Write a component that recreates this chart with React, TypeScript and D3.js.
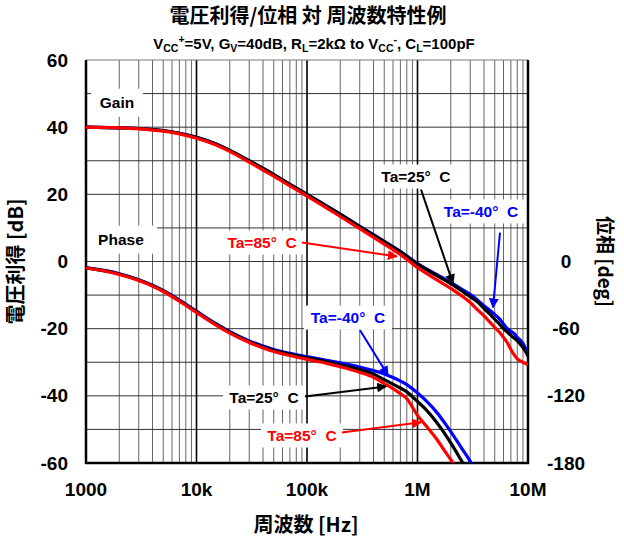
import React from 'react';
import * as d3 from 'd3';

const W = 624;
const H = 541;
const left = 86, right = 528, top = 60, bottom = 463;
const FONT = "'Liberation Sans', Arial, 'Noto Sans CJK JP', sans-serif";
const CJK = "'Noto Sans CJK JP', 'Liberation Sans', sans-serif";

// ---- Data ----
const gainFreq = [1000, 2000, 3000, 5000, 7000, 10000, 15000, 20000, 30000, 50000, 70000, 100000, 150000, 200000, 300000, 500000, 700000, 1000000, 1500000, 2000000, 2500000, 3000000, 3500000, 4000000, 4500000, 5000000, 5500000, 6000000, 6500000, 7000000, 7500000, 8000000, 8500000, 9000000, 9500000, 10000000];
const gainM40 = [40.0, 39.8, 39.6, 39.0, 38.2, 37.0, 35.0, 33.1, 30.0, 25.9, 23.0, 20.0, 16.6, 14.1, 10.5, 6.0, 3.0, -0.6, -3.9, -6.2, -8.2, -9.8, -11.5, -13.2, -14.5, -15.8, -17.0, -18.6, -20.0, -20.8, -21.5, -22.6, -23.4, -24.4, -25.8, -27.2];
const gain25 = [40.0, 39.8, 39.6, 39.0, 38.2, 37.0, 35.0, 33.1, 30.0, 25.9, 23.0, 20.0, 16.5, 14.0, 10.4, 5.9, 2.9, -0.8, -4.2, -6.6, -8.7, -10.5, -12.1, -14.0, -15.6, -17.2, -18.6, -20.0, -21.0, -22.0, -22.8, -23.6, -24.6, -25.6, -26.8, -28.2];
const gain85 = [40.0, 39.8, 39.5, 38.8, 38.0, 36.7, 34.7, 32.8, 29.6, 25.4, 22.5, 19.5, 16.0, 13.4, 9.8, 5.2, 2.1, -1.8, -5.5, -8.0, -10.2, -12.2, -14.4, -16.2, -18.0, -19.6, -21.0, -22.6, -24.2, -26.2, -27.8, -29.0, -29.6, -30.0, -30.4, -30.8];

const phaseFreq = [1000, 1500, 2000, 3000, 4000, 5000, 7000, 10000, 15000, 20000, 30000, 40000, 50000, 70000, 100000, 150000, 200000, 300000, 400000, 500000, 600000, 700000, 800000, 1000000, 1200000, 1500000, 1800000, 2000000, 2500000, 3000000, 3500000];
const phaseM40 = [-5.4, -8.2, -10.9, -16.2, -21.2, -25.9, -34.4, -44.4, -55.6, -62.7, -70.9, -75.6, -78.6, -82.0, -85.0, -88.2, -90.5, -94.2, -97.4, -100.4, -103.6, -106.8, -110.0, -117.5, -124.5, -135.0, -145.5, -152.0, -166.5, -178.5, -190.0];
const phase25 = [-5.6, -8.4, -11.2, -16.6, -21.6, -26.3, -34.9, -45.0, -56.2, -63.3, -71.6, -76.3, -79.4, -82.9, -86.0, -89.5, -92.3, -96.5, -100.5, -105.5, -109.5, -113.0, -116.5, -125.0, -132.5, -144.0, -155.0, -162.0, -178.0, -192.0, -200.0];
const phase85 = [-5.8, -8.7, -11.6, -17.0, -22.0, -26.8, -35.5, -45.6, -56.8, -64.0, -72.4, -77.2, -80.4, -84.0, -87.4, -91.0, -94.0, -99.0, -103.5, -109.0, -113.5, -118.0, -122.5, -137.5, -147.0, -159.0, -170.5, -177.0, -193.0, -205.0, -215.0];

const xTicks = [1000, 10000, 100000, 1000000, 10000000];
const xTickLabels = ['1000', '10k', '100k', '1M', '10M'];
const gainTicks = [60, 40, 20, 0, -20, -40, -60];
const phaseTicks = [0, -60, -120, -180];
const hGrid = [50, 40, 30, 20, 10, 0, -10, -20, -30, -40, -50];

const seriesColors = { m40: '#0000ff', t25: '#000000', t85: '#ff0000' };

// annotations: label centre and arrow from/to in (Hz, dB)
const annotations = [
  { text: 'Ta=85°\u00a0 C', color: '#ff0000', cx: 39200, cy: 5.65, w: 82, fx: 90000, fy: 5.65, tx: 650000, ty: 1.5 },
  { text: 'Ta=25°\u00a0 C', color: '#000000', cx: 968000, cy: 25.3, w: 82, fx: 1076000, fy: 21.4, tx: 2095000, ty: -6.5 },
  { text: 'Ta=-40°\u00a0 C', color: '#0000ff', cx: 3760000, cy: 14.9, w: 88, fx: 5580000, fy: 8.6, tx: 4820000, ty: -13.7 },
  { text: 'Ta=-40°\u00a0 C', color: '#0000ff', cx: 235000, cy: -16.7, w: 88, fx: 302000, fy: -20.5, tx: 541000, ty: -33.9 },
  { text: 'Ta=25°\u00a0 C', color: '#000000', cx: 40800, cy: -40.5, w: 82, fx: 95900, fy: -40.2, tx: 519000, ty: -37.2 },
  { text: 'Ta=85°\u00a0 C', color: '#ff0000', cx: 90100, cy: -51.8, w: 82, fx: 207000, fy: -50.9, tx: 1076000, ty: -47.9 },
];
const sectionLabels = [
  { text: 'Gain', cx: 1910, cy: 47.3, w: 52 },
  { text: 'Phase', cx: 2070, cy: 6.5, w: 72 },
];

export default function App() {
  const x = d3.scaleLog().domain([1e3, 1e7]).range([left, right]);
  const y = d3.scaleLinear().domain([-60, 60]).range([bottom, top]);
  const yp = d3.scaleLinear().domain([-180, 180]).range([bottom, top]);

  const minors: number[] = [];
  [1e3, 1e4, 1e5, 1e6].forEach((d) => {
    for (let k = 2; k <= 9; k++) minors.push(d * k);
  });

  const gLine = d3.line<[number, number]>().x((d) => x(d[0])).y((d) => y(d[1])).curve(d3.curveMonotoneX);
  const pLine = d3.line<[number, number]>().x((d) => x(d[0])).y((d) => yp(d[1])).curve(d3.curveMonotoneX);
  const zip = (f: number[], v: number[]) => f.map((ff, i) => [ff, v[i]] as [number, number]);

  const curves = [
    { d: gLine(zip(gainFreq, gainM40)), c: seriesColors.m40 },
    { d: pLine(zip(phaseFreq, phaseM40)), c: seriesColors.m40 },
    { d: gLine(zip(gainFreq, gain25)), c: seriesColors.t25 },
    { d: pLine(zip(phaseFreq, phase25)), c: seriesColors.t25 },
    { d: gLine(zip(gainFreq, gain85)), c: seriesColors.t85 },
    { d: pLine(zip(phaseFreq, phase85)), c: seriesColors.t85 },
  ];

  const markerId = (c: string) => 'arr' + c.replace('#', '');

  return (
    <svg width={W} height={H} style={{ position: 'absolute', left: 0, top: 0, background: '#fff' }} fontFamily={FONT}>
      <defs>
        <clipPath id="plotclip">
          <rect x={left} y={top} width={right - left} height={bottom - top} />
        </clipPath>
        {['#ff0000', '#000000', '#0000ff'].map((c) => (
          <marker key={c} id={markerId(c)} viewBox="0 0 10 10" refX="9" refY="5" markerWidth="5" markerHeight="5" orient="auto">
            <path d="M0,0 L10,5 L0,10 z" fill={c} />
          </marker>
        ))}
      </defs>
      <rect x={0} y={0} width={W} height={H} fill="#fff" />

      {/* grid */}
      {minors.map((f) => (
        <line key={'m' + f} x1={x(f)} x2={x(f)} y1={top} y2={bottom} stroke="#666" strokeWidth={1} />
      ))}
      {hGrid.map((g) => (
        <line key={'h' + g} x1={left} x2={right} y1={y(g)} y2={y(g)} stroke="#333" strokeWidth={1} />
      ))}
      {xTicks.slice(1, 4).map((f) => (
        <line key={'M' + f} x1={x(f)} x2={x(f)} y1={top} y2={bottom} stroke="#000" strokeWidth={1.6} />
      ))}

      {/* section labels */}
      {sectionLabels.map((s) => (
        <g key={s.text}>
          <rect x={x(s.cx) - s.w / 2} y={y(s.cy) - 14} width={s.w} height={28} fill="#fff" />
          <text x={x(s.cx)} y={y(s.cy)} dy="0.35em" textAnchor="middle" fontSize={15.5} fontWeight="bold" fill="#000">{s.text}</text>
        </g>
      ))}

      {/* label boxes */}
      {annotations.map((a, i) => (
        <rect key={'b' + i} x={x(a.cx) - a.w / 2} y={y(a.cy) - 12} width={a.w} height={24} fill="#fff" />
      ))}

      {/* frame */}
      <line x1={left} x2={right} y1={top} y2={top} stroke="#777" strokeWidth={1} />
      <line x1={left} x2={left} y1={top} y2={bottom + 1} stroke="#000" strokeWidth={2.5} />
      <line x1={right} x2={right} y1={top} y2={bottom + 1} stroke="#000" strokeWidth={2.5} />
      <line x1={left - 1} x2={right + 1} y1={bottom} y2={bottom} stroke="#000" strokeWidth={2.5} />

      {/* curves */}
      <g clipPath="url(#plotclip)">
        {curves.map((c, i) => (
          <path key={i} d={c.d || ''} fill="none" stroke={c.c} strokeWidth={3.2} strokeLinejoin="round" />
        ))}
      </g>

      {/* annotations */}
      {annotations.map((a, i) => (
        <g key={'a' + i}>
          <text x={x(a.cx)} y={y(a.cy)} dy="0.35em" textAnchor="middle" fontSize={15.5} fontWeight="bold" fill={a.color}>{a.text}</text>
          <line x1={x(a.fx)} y1={y(a.fy)} x2={x(a.tx)} y2={y(a.ty)} stroke={a.color} strokeWidth={2} markerEnd={`url(#${markerId(a.color)})`} />
        </g>
      ))}

      {/* axes labels */}
      {gainTicks.map((g) => (
        <text key={'gt' + g} x={68} y={y(g)} dy="0.35em" textAnchor="end" fontSize={19} fontWeight="bold">{g}</text>
      ))}
      {phaseTicks.map((p) => (
        <text key={'pt' + p} x={566} y={yp(p)} dy="0.35em" textAnchor="middle" fontSize={19} fontWeight="bold">{p}</text>
      ))}
      {xTicks.map((f, i) => (
        <text key={'xt' + f} x={x(f)} y={496} textAnchor="middle" fontSize={19} fontWeight="bold">{xTickLabels[i]}</text>
      ))}

      {/* titles */}
      <text x={308} y={23} textAnchor="middle" fontSize={20} fontWeight="bold" fontFamily={CJK}>電圧利得/位相 対 周波数特性例</text>
      <text x={314} y={49} textAnchor="middle" fontSize={15} fontWeight="bold">
        V<tspan fontSize={10.5} dy={3}>CC</tspan><tspan fontSize={10.5} dy={-9}>+</tspan><tspan dy={6}>=5V, G</tspan>
        <tspan fontSize={10.5} dy={3}>V</tspan><tspan dy={-3}>=40dB, R</tspan>
        <tspan fontSize={10.5} dy={3}>L</tspan><tspan dy={-3}>=2kΩ to V</tspan>
        <tspan fontSize={10.5} dy={3}>CC</tspan><tspan fontSize={10.5} dy={-9}>-</tspan><tspan dy={6}>, C</tspan>
        <tspan fontSize={10.5} dy={3}>L</tspan><tspan dy={-3}>=100pF</tspan>
      </text>
      <text x={306} y={532} textAnchor="middle" fontSize={20} fontWeight="bold" fontFamily={CJK}>周波数 [Hz]</text>
      <text transform={`translate(23,${(top + bottom) / 2}) rotate(-90)`} textAnchor="middle" fontSize={20} fontWeight="bold" fontFamily={CJK}>電圧利得 [dB]</text>
      <text transform={`translate(598,${(top + bottom) / 2}) rotate(90)`} textAnchor="middle" fontSize={19} fontWeight="bold" fontFamily={CJK}>位相 [deg]</text>
    </svg>
  );
}
